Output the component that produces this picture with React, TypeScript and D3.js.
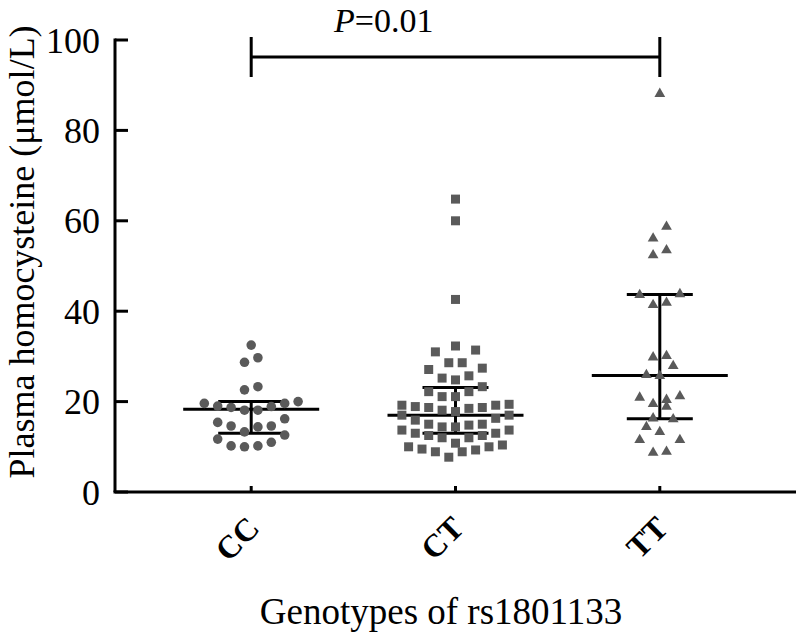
import * as React from "react"
import * as d3 from "d3"

// genotype groups and plasma homocysteine values (umol/L)
const categories = ["CC", "CT", "TT"]

const ccValues = [32.5, 29.7, 28.7, 23.3, 22.6, 20.0, 19.6, 19.6, 19.0, 18.9, 18.7, 18.1, 18.1,
    16.2, 15.4, 14.6, 14.6, 14.4, 13.3, 12.6, 11.7, 11.0, 10.2, 10.2, 10.0]

const ctValues = [64.8, 60.0, 42.6, 32.3, 31.4, 31.0, 28.6, 28.6, 27.4, 27.1, 25.7, 25.2, 24.8,
    23.3, 22.2, 22.2, 21.1, 21.1, 19.4, 19.2, 19.2, 18.9, 18.7, 18.7, 18.5, 18.1, 17.8, 17.0,
    17.0, 16.3, 15.9, 15.0, 15.0, 14.8, 14.4, 14.4, 13.7, 13.7, 13.0, 13.0, 12.5, 12.5, 12.0,
    12.0, 10.8, 10.4, 10.0, 10.0, 9.5, 9.3, 8.9, 8.9, 7.7]

const ttValues = [88.1, 58.7, 56.1, 53.5, 52.4, 43.8, 43.6, 41.9, 41.4, 30.1, 29.8, 27.9, 25.9,
    25.7, 21.2, 20.9, 20.4, 19.5, 18.9, 16.3, 16.1, 14.4, 13.3, 11.5, 11.5, 8.9, 8.7]

// median with interquartile range per group
const medians = [18.3, 17.0, 25.8]
const lowerQ = [13.0, 13.0, 16.2]
const upperQ = [20.0, 23.1, 43.7]

const yTicks = [0, 20, 40, 60, 80, 100]
const pValue = "0.01"

const width = 800
const height = 637
const font = "'Liberation Serif', 'Times New Roman', serif"
const dotColor = "#5a5a5a"

// prism-like scatter layout: bin by value, spread each bin sideways
function swarm(values, binH, maxPerRow, gap) {
    const sorted = [...values].sort((a, b) => a - b)
    const rows = []
    let cur = []
    sorted.forEach((v) => {
        if (cur.length && (v >= cur[0] + binH || cur.length >= maxPerRow)) {
            rows.push(cur)
            cur = []
        }
        cur.push(v)
    })
    if (cur.length) rows.push(cur)

    const out = []
    rows.forEach((row) => {
        const n = row.length
        // slots ordered from the centre outwards
        const slots = d3.range(n).map((i) => (i - (n - 1) / 2) * gap)
        slots.sort((a, b) => Math.abs(a) - Math.abs(b) || a - b)
        row.forEach((v, i) => out.push({ v, dx: slots[i] }))
    })
    return out
}

export default function App() {
    const left = 115
    const right = 796
    const top = 40
    const bottom = 492

    const x = d3.scalePoint().domain(categories).range([left, right]).padding(2 / 3)
    const y = d3.scaleLinear().domain([0, 100]).range([bottom, top])

    const groups = [
        { key: "CC", values: ccValues, shape: d3.symbolCircle, size: 72 },
        { key: "CT", values: ctValues, shape: d3.symbolSquare, size: 81 },
        { key: "TT", values: ttValues, shape: d3.symbolTriangle, size: 50 },
    ]

    const capHalf = 33
    const medHalf = 68

    return (
        <svg width={width} height={height} style={{ position: "absolute", left: 0, top: 0, background: "#fff" }}>
            {/* y axis */}
            <line x1={left} x2={left} y1={top - 1.5} y2={bottom} stroke="#000" strokeWidth={3} />
            {yTicks.map((t) => (
                <g key={t}>
                    <line x1={left} x2={left + 13} y1={y(t)} y2={y(t)} stroke="#000" strokeWidth={3} />
                    <text x={100} y={y(t)} dy="0.35em" textAnchor="end" fontFamily={font} fontSize={36}>{t}</text>
                </g>
            ))}
            <text transform={`translate(34,${252}) rotate(-90)`} textAnchor="middle" fontFamily={font} fontSize={36}>
                Plasma homocysteine (μmol/L)
            </text>

            {/* x axis */}
            <line x1={left - 1.5} x2={right} y1={bottom} y2={bottom} stroke="#000" strokeWidth={3} />
            {categories.map((c) => (
                <g key={c}>
                    <line x1={x(c)} x2={x(c)} y1={bottom} y2={bottom - 6} stroke="#000" strokeWidth={3} />
                    <text transform={`translate(${x(c) + 10},530) rotate(-45)`} textAnchor="end"
                        fontFamily={font} fontSize={32} fontWeight="bold">{c}</text>
                </g>
            ))}
            <text x={441} y={624} textAnchor="middle" fontFamily={font} fontSize={37}>Genotypes of rs1801133</text>

            {/* significance bracket */}
            <g stroke="#000" strokeWidth={3}>
                <line x1={x("CC")} x2={x("TT")} y1={57} y2={57} />
                <line x1={x("CC")} x2={x("CC")} y1={37} y2={77} />
                <line x1={x("TT")} x2={x("TT")} y1={37} y2={77} />
            </g>
            <text x={334} y={32} fontFamily={font} fontSize={34}>
                <tspan fontStyle="italic">P</tspan>={pValue}
            </text>

            {/* median + IQR */}
            {categories.map((c, i) => (
                <g key={c} stroke="#000" strokeWidth={3}>
                    <line x1={x(c) - medHalf} x2={x(c) + medHalf} y1={y(medians[i])} y2={y(medians[i])} />
                    <line x1={x(c) - capHalf} x2={x(c) + capHalf} y1={y(upperQ[i])} y2={y(upperQ[i])} />
                    <line x1={x(c) - capHalf} x2={x(c) + capHalf} y1={y(lowerQ[i])} y2={y(lowerQ[i])} />
                    <line x1={x(c)} x2={x(c)} y1={y(upperQ[i])} y2={y(lowerQ[i])} />
                </g>
            ))}

            {/* points */}
            {groups.map((g) => {
                const path = d3.symbol().type(g.shape).size(g.size)()
                return (
                    <g key={g.key} fill={dotColor}>
                        {swarm(g.values, 3.0, 10, 13.4).map((p, i) => (
                            <path key={i} d={path} transform={`translate(${x(g.key) + p.dx},${y(p.v)})`} />
                        ))}
                    </g>
                )
            })}
        </svg>
    )
}
